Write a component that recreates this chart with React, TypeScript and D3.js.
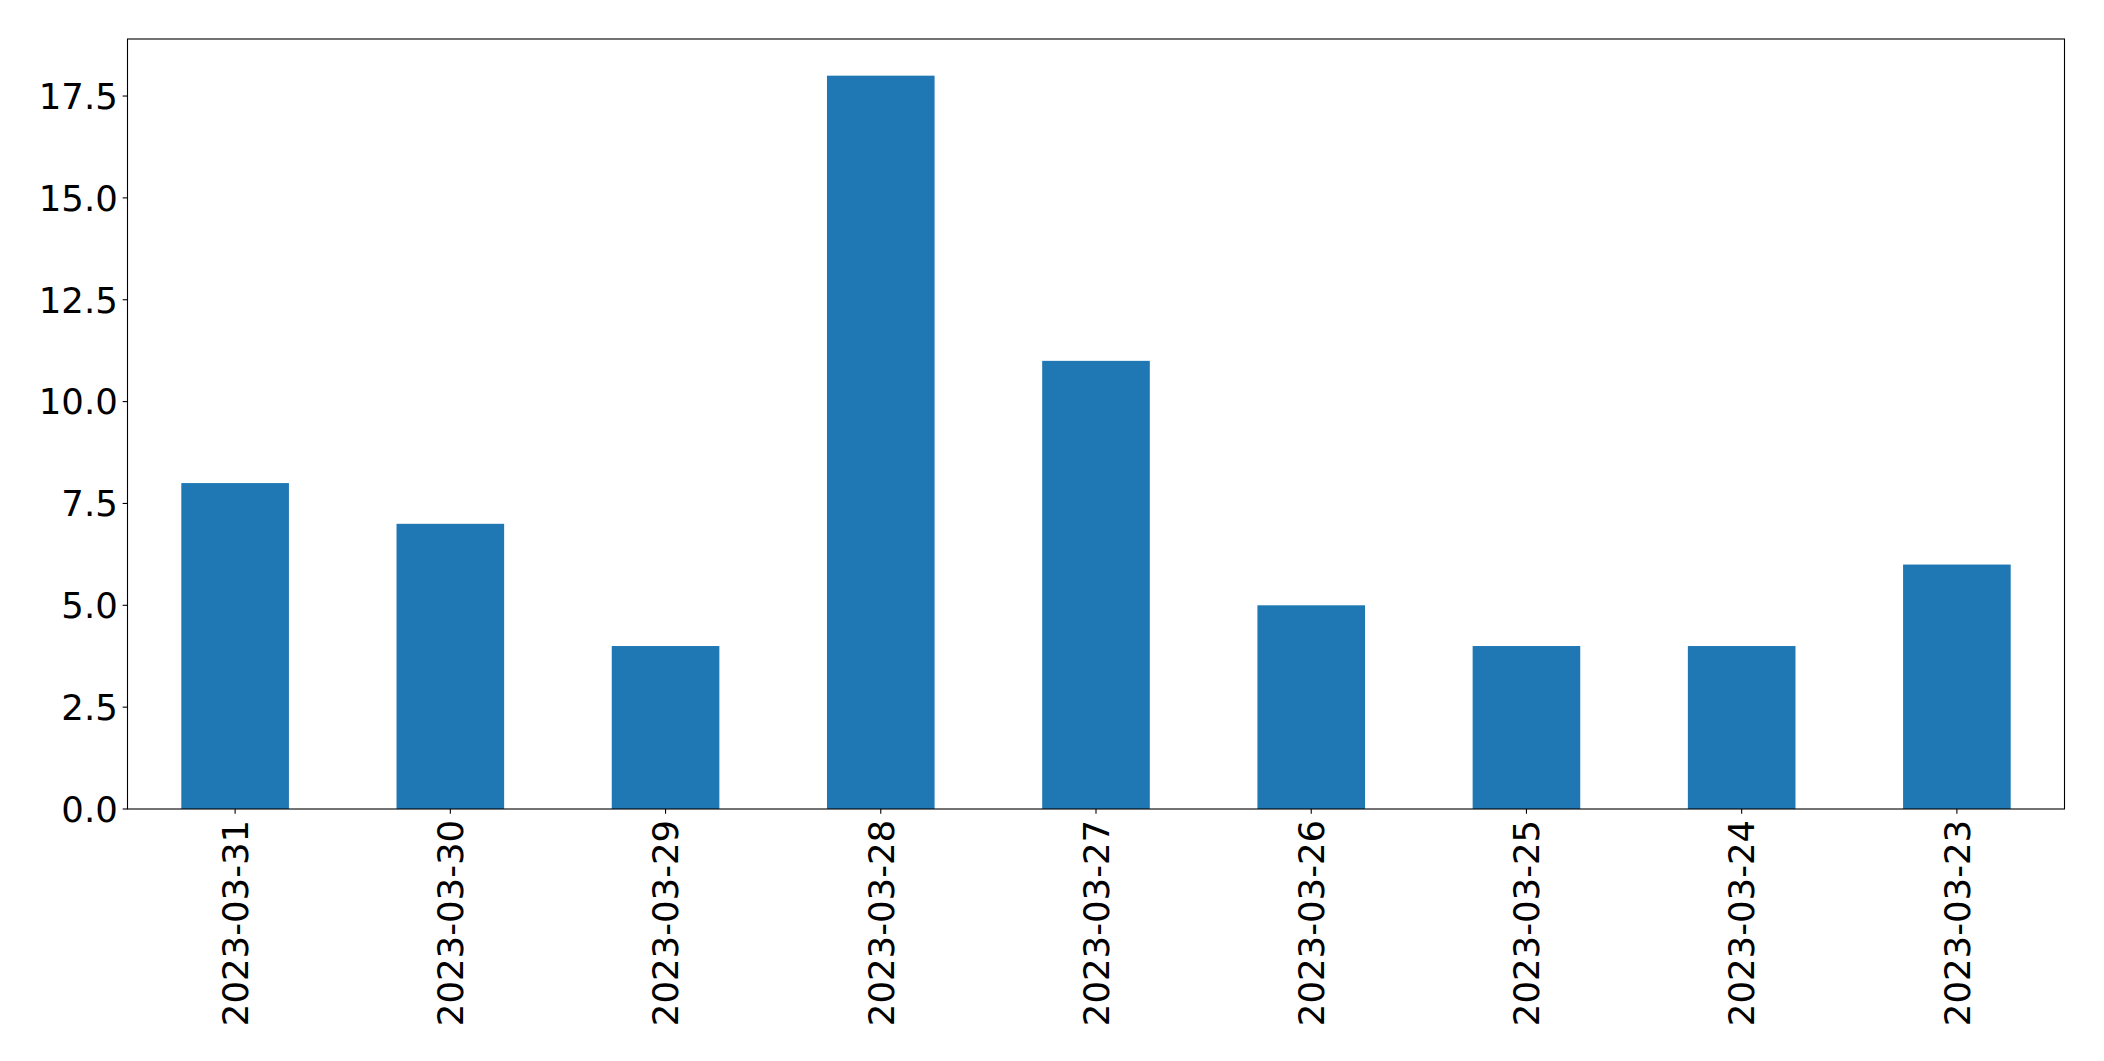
import React from "react";
import * as d3 from "d3";

const categories = ["2023-03-31", "2023-03-30", "2023-03-29", "2023-03-28", "2023-03-27", "2023-03-26", "2023-03-25", "2023-03-24", "2023-03-23"];
const values = [8, 7, 4, 18, 11, 5, 4, 4, 6];
const yTicks = [0, 2.5, 5, 7.5, 10, 12.5, 15, 17.5];

const W = 2104, H = 1061;
const L = 127.5, R = 2064.5, T = 39, B = 809;
const FS = 35.5;
const TICK = 4.86;

export default function App() {
  const x = d3.scaleLinear().domain([-0.5, categories.length - 0.5]).range([L, R]);
  const y = d3.scaleLinear().domain([0, d3.max(values)! * 1.05]).range([B, T]);
  const bw = x(0.25) - x(-0.25);
  return (
    <svg width={W} height={H} style={{ position: "absolute", left: 0, top: 0, background: "#fff" }} fontFamily="DejaVu Sans">
      <rect x={0} y={0} width={W} height={H} fill="#fff" />
      {values.map((v, i) => (
        <rect key={i} x={x(i) - bw / 2} y={y(v)} width={bw} height={y(0) - y(v)} fill="#1f77b4" />
      ))}
      {yTicks.map((t) => (
        <g key={t}>
          <line x1={L - TICK} x2={L} y1={y(t)} y2={y(t)} stroke="#000" strokeWidth={1.1} />
          <text x={L - TICK - 4.86} y={y(t)} dy="0.36em" textAnchor="end" fontSize={FS} fill="#000">
            {d3.format(".1f")(t)}
          </text>
        </g>
      ))}
      {categories.map((c, i) => (
        <g key={c}>
          <line x1={x(i)} x2={x(i)} y1={B} y2={B + TICK} stroke="#000" strokeWidth={1.1} />
          <text
            transform={`translate(${x(i)},${B + TICK + 6}) rotate(-90)`}
            textAnchor="end"
            dy="0.36em"
            fontSize={FS}
            fill="#000"
          >
            {c}
          </text>
        </g>
      ))}
      <rect x={L} y={T} width={R - L} height={B - T} fill="none" stroke="#000" strokeWidth={1.1} />
    </svg>
  );
}
